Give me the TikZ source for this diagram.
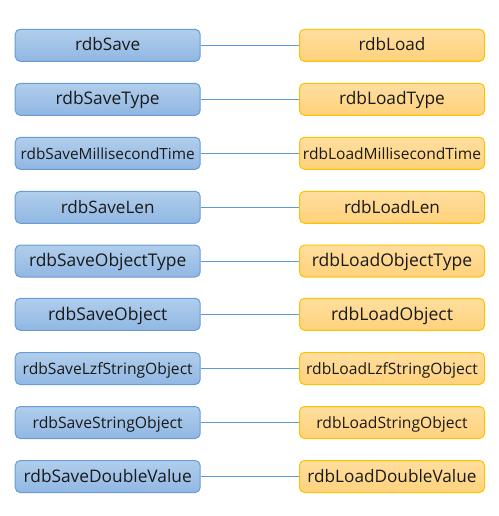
\documentclass[tikz,border=0pt]{standalone}
\usepackage{fontspec}
\setmainfont{Open Sans}
\usetikzlibrary{shadings}
\definecolor{bluetop}{HTML}{B1CEEC}
\definecolor{bluebot}{HTML}{90B7E3}
\definecolor{blueedge}{HTML}{6A9BD4}
\definecolor{orgtop}{HTML}{FFDE9F}
\definecolor{orgbot}{HTML}{FFD27B}
\definecolor{orgedge}{HTML}{FFC000}
\definecolor{linkc}{HTML}{5B9BD5}
\definecolor{txt}{HTML}{1A1A1A}
\tikzset{
  savebox/.style={draw=blueedge, line width=1pt, rounded corners=5pt, top color=bluetop, bottom color=bluebot, minimum width=185pt, minimum height=32pt, inner sep=0pt},
  loadbox/.style={draw=orgedge, line width=1pt, rounded corners=5pt, top color=orgtop, bottom color=orgbot, minimum width=185pt, minimum height=32pt, inner sep=0pt},
  lbl/.style={anchor=base, inner sep=0pt, text=txt},
  link/.style={draw=linkc, line width=1pt}
}
\newcommand{\fitw}[2]{\resizebox{#1pt}{!}{#2}}
\begin{document}
\begin{tikzpicture}[x=1pt,y=-1pt]
\useasboundingbox (0,0) rectangle (498,516);
\foreach \i/\ya/\sw/\st/\lw/\lt in {
  1/45.3/65/rdbSave/67/rdbLoad,
  2/99.3/104/rdbSaveType/105.7/rdbLoadType,
  3/153.3/174/rdbSaveMillisecondTime/178/rdbLoadMillisecondTime,
  4/207.3/93.7/rdbSaveLen/96/rdbLoadLen,
  5/261/157.3/rdbSaveObjectType/160.3/rdbLoadObjectType,
  6/314.3/119.3/rdbSaveObject/122/rdbLoadObject,
  7/368.5/170/rdbSaveLzfStringObject/171.7/rdbLoadLzfStringObject,
  8/422.5/150/rdbSaveStringObject/151.3/rdbLoadStringObject,
  9/476.5/168/rdbSaveDoubleValue/169/rdbLoadDoubleValue}{
  \node[savebox] (s\i) at (107.7,\ya) {};
  \node[loadbox] (l\i) at (392,\ya) {};
  \node[lbl] (st\i) at (107.7,\ya+5.7) {\fitw{\sw}{\st}};
  \node[lbl] (lt\i) at (392,\ya+5.7) {\fitw{\lw}{\lt}};
  \draw[link] (s\i.east) -- (l\i.west);
}
\end{tikzpicture}
\end{document}
